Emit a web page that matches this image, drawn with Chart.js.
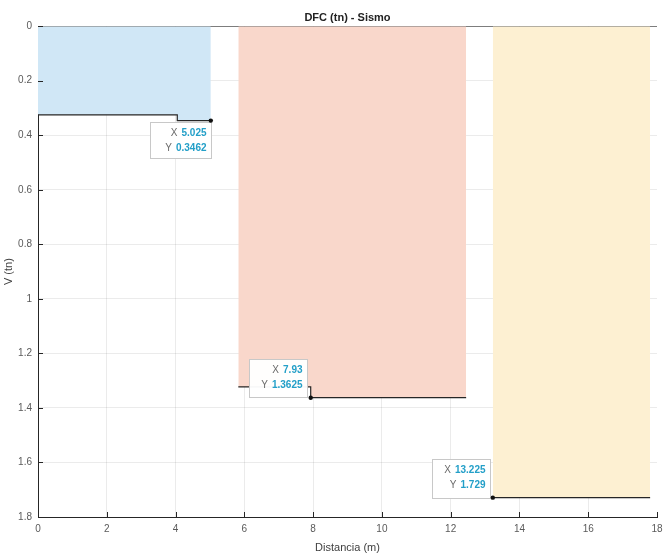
<!DOCTYPE html>
<html>
<head>
<meta charset="utf-8">
<script src="https://cdn.jsdelivr.net/npm/chart.js@4.4.1/dist/chart.umd.min.js"></script>
<style>
  html, body { margin: 0; padding: 0; background: #fff; }
  #wrap { width: 669px; height: 559px; position: relative; }
</style>
</head>
<body>
<div id="wrap"><canvas id="c" width="669" height="559"></canvas></div>
<script>
// Shear diagram (DFC) under seismic load: three loaded spans
const xTicks = [0, 2, 4, 6, 8, 10, 12, 14, 16, 18];
const yTicks = [0, 0.2, 0.4, 0.6, 0.8, 1, 1.2, 1.4, 1.6, 1.8];
const yTickLabels = ['0', '0.2', '0.4', '0.6', '0.8', '1', '1.2', '1.4', '1.6', '1.8'];

// span 1
const span1X = [0, 4.05, 4.05, 5.025];
const span1V = [0.325, 0.325, 0.3462, 0.3462];
// span 2
const span2X = [5.825, 7.93, 7.93, 12.45];
const span2V = [1.323, 1.323, 1.3625, 1.3625];
// span 3
const span3X = [13.225, 17.8];
const span3V = [1.729, 1.729];
// zero reference line
const zeroX = [0, 18];
const zeroV = [0, 0];

// data tips
const tipX = [5.025, 7.93, 13.225];
const tipY = [0.3462, 1.3625, 1.729];
const tipXText = ['5.025', '7.93', '13.225'];
const tipYText = ['0.3462', '1.3625', '1.729'];

const pts = (xs, ys) => xs.map((x, i) => ({ x: x, y: ys[i] }));

const FONT = '"Liberation Sans", Arial, Helvetica, sans-serif';
const LINE = '#262626';

// box placement of each tip relative to its point (px)
const tipBoxes = [
  { dx: -61, dy: 1, w: 61, h: 36 },
  { dx: -62, dy: -39, w: 58, h: 38 },
  { dx: -61, dy: -39, w: 58, h: 39 }
];

const inwardTicks = {
  id: 'inwardTicks',
  afterDatasetsDraw(chart) {
    const { ctx, chartArea } = chart;
    const xs = chart.scales.x, ys = chart.scales.y;
    ctx.save();
    ctx.strokeStyle = LINE;
    ctx.lineWidth = 1;
    ctx.beginPath();
    xTicks.forEach(v => {
      const p = Math.round(xs.getPixelForValue(v)) + 0.5;
      ctx.moveTo(p, chartArea.bottom);
      ctx.lineTo(p, chartArea.bottom - 5);
    });
    yTicks.forEach(v => {
      const p = Math.round(ys.getPixelForValue(v)) + 0.5;
      ctx.moveTo(chartArea.left, p);
      ctx.lineTo(chartArea.left + 5, p);
    });
    ctx.stroke();
    ctx.restore();
  }
};

const dataTips = {
  id: 'dataTips',
  afterDraw(chart) {
    const { ctx } = chart;
    const xs = chart.scales.x, ys = chart.scales.y;
    ctx.save();
    tipX.forEach((xv, i) => {
      const px = xs.getPixelForValue(xv);
      const py = ys.getPixelForValue(tipY[i]);
      const b = tipBoxes[i];
      const bx = Math.round(px + b.dx) + 0.5;
      const by = Math.round(py + b.dy) + 0.5;
      ctx.fillStyle = 'rgba(255,255,255,0.96)';
      ctx.fillRect(bx, by, b.w, b.h);
      ctx.strokeStyle = '#c8c8c8';
      ctx.lineWidth = 1;
      ctx.strokeRect(bx, by, b.w, b.h);
      const right = bx + b.w - 5;
      const rows = [['X', tipXText[i], by + 11], ['Y', tipYText[i], by + 26]];
      ctx.textBaseline = 'middle';
      ctx.textAlign = 'right';
      rows.forEach(r => {
        ctx.font = 'bold 10px ' + FONT;
        ctx.fillStyle = '#239fc8';
        ctx.fillText(r[1], right, r[2]);
        const w = ctx.measureText(r[1]).width;
        ctx.font = '10px ' + FONT;
        ctx.fillStyle = '#6a6a6a';
        ctx.fillText(r[0], right - w - 4, r[2]);
      });
      // snapped point marker
      ctx.fillStyle = '#111';
      ctx.beginPath();
      ctx.arc(px, py, 2.2, 0, Math.PI * 2);
      ctx.fill();
    });
    ctx.restore();
  }
};

const lineSet = (data, fillColor) => ({
  data: data,
  borderColor: LINE,
  borderWidth: 1.2,
  pointRadius: 0,
  tension: 0,
  fill: fillColor ? 'origin' : false,
  backgroundColor: fillColor || 'transparent'
});

const gridColor = c => (c.tick && c.tick.value === 18) ? 'rgba(0,0,0,0)' : 'rgba(0,0,0,0.08)';

new Chart(document.getElementById('c'), {
  type: 'line',
  data: {
    datasets: [
      lineSet(pts(span1X, span1V), '#d0e7f6'),
      lineSet(pts(span2X, span2V), '#f9d7cb'),
      lineSet(pts(span3X, span3V), '#fdf0d2'),
      lineSet(pts(zeroX, zeroV), null)
    ]
  },
  options: {
    responsive: false,
    animation: false,
    events: [],
    layout: { padding: { left: 0, right: 12, top: 0, bottom: 2 } },
    plugins: {
      legend: { display: false },
      tooltip: { enabled: false },
      title: {
        display: true,
        fullSize: false,
        text: 'DFC (tn) - Sismo',
        color: '#222',
        font: { family: FONT, size: 11, weight: 'bold', lineHeight: 1.2 },
        padding: { top: 11, bottom: 2 }
      }
    },
    scales: {
      x: {
        type: 'linear',
        min: 0, max: 18,
        z: 1,
        afterBuildTicks: s => { s.ticks = xTicks.map(v => ({ value: v })); },
        afterFit: s => { s.height = 40; },
        ticks: {
          padding: 6,
          color: '#5a5a5a',
          font: { family: FONT, size: 10 },
          maxRotation: 0,
          autoSkip: false
        },
        grid: { color: gridColor, drawTicks: false },
        border: { display: true, color: LINE, width: 1 },
        title: {
          display: true,
          text: 'Distancia (m)',
          color: '#404040',
          font: { family: FONT, size: 11 },
          padding: { top: 0, bottom: 2 }
        }
      },
      y: {
        type: 'linear',
        reverse: true,
        min: 0, max: 1.8,
        z: 1,
        afterBuildTicks: s => { s.ticks = yTicks.map(v => ({ value: v })); },
        afterFit: s => { s.width = 38; },
        ticks: {
          padding: 6,
          color: '#5a5a5a',
          font: { family: FONT, size: 10 },
          autoSkip: false,
          callback: (v, i) => yTickLabels[i]
        },
        grid: { color: 'rgba(0,0,0,0.08)', drawTicks: false },
        border: { display: true, color: LINE, width: 1 },
        title: {
          display: true,
          text: 'V (tn)',
          color: '#404040',
          font: { family: FONT, size: 11 },
          padding: { top: 2, bottom: 0 }
        }
      }
    }
  },
  plugins: [inwardTicks, dataTips]
});
</script>
</body>
</html>
